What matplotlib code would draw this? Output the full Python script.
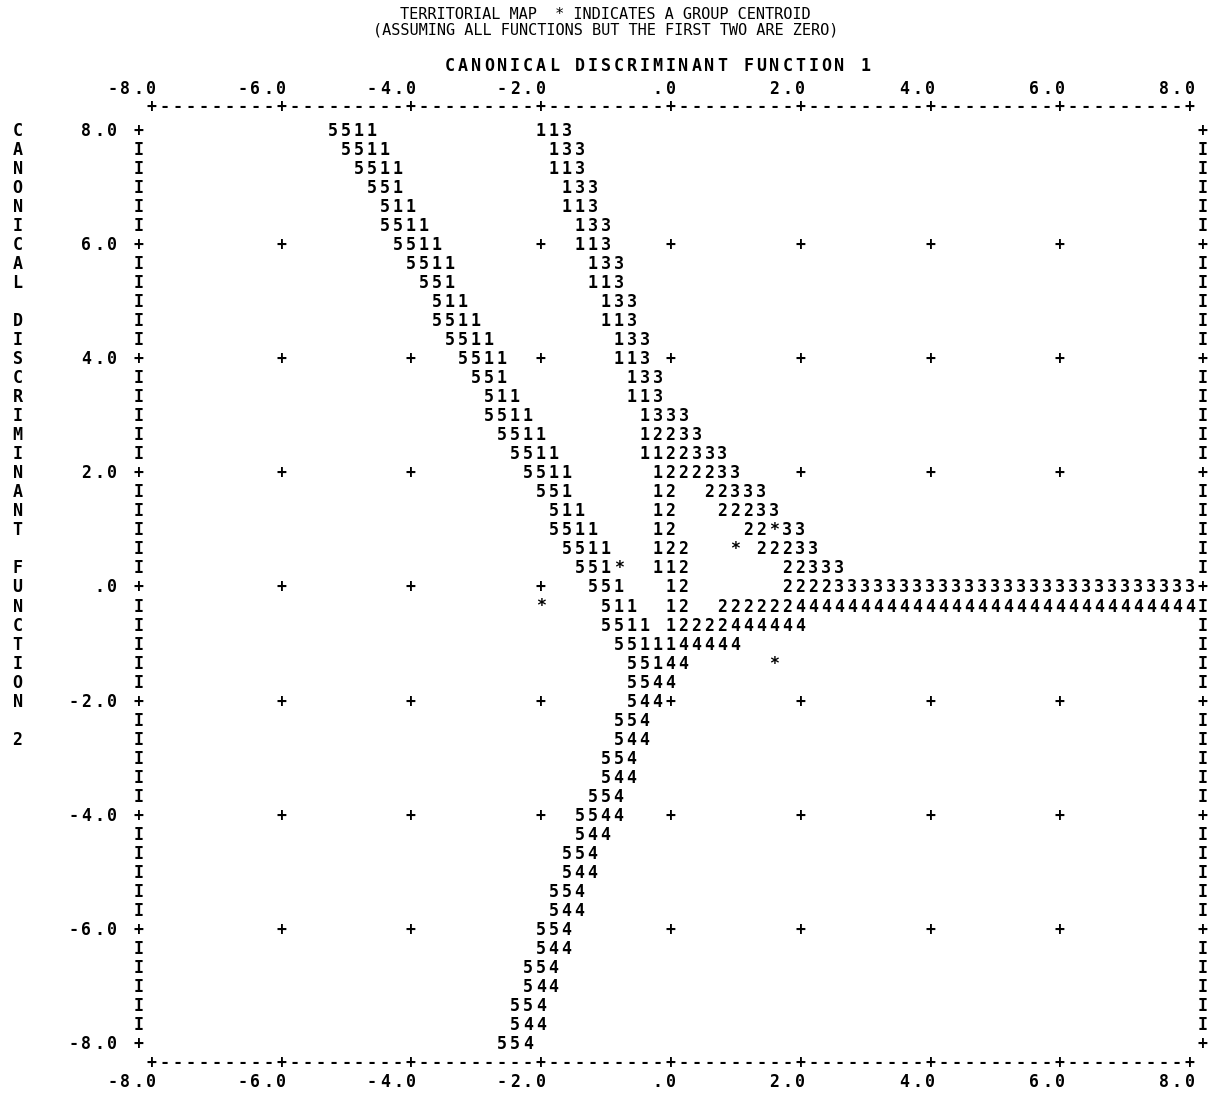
import matplotlib
matplotlib.use('Agg')
import matplotlib.pyplot as plt

# SPSS territorial map, function 1 (x) vs function 2 (y)
# each map row: list of (column, text); column 1 = -8.0, column 81 = 8.0, step 0.2
# rows go from y=8.0 (row 0) down to y=-8.0 (row 48), step 1/3
territory = [
    [(15, '5511'), (31, '113')],
    [(16, '5511'), (32, '133')],
    [(17, '5511'), (32, '113')],
    [(18, '551'), (33, '133')],
    [(19, '511'), (33, '113')],
    [(19, '5511'), (34, '133')],
    [(20, '5511'), (34, '113')],
    [(21, '5511'), (35, '133')],
    [(22, '551'), (35, '113')],
    [(23, '511'), (36, '133')],
    [(23, '5511'), (36, '113')],
    [(24, '5511'), (37, '133')],
    [(25, '5511'), (37, '113')],
    [(26, '551'), (38, '133')],
    [(27, '511'), (38, '113')],
    [(27, '5511'), (39, '1333')],
    [(28, '5511'), (39, '12233')],
    [(29, '5511'), (39, '1122333')],
    [(30, '5511'), (40, '1222233')],
    [(31, '551'), (40, '12'), (44, '22333')],
    [(32, '511'), (40, '12'), (45, '22233')],
    [(32, '5511'), (40, '12'), (47, '22 33')],
    [(33, '5511'), (40, '122'), (48, '22233')],
    [(34, '551'), (40, '112'), (50, '22333')],
    [(35, '551'), (41, '12'), (50, '2222' + '3' * 28)],
    [(36, '511'), (41, '12'), (45, '222222' + '4' * 31)],
    [(36, '5511'), (41, '12222444444')],
    [(37, '5511144444')],
    [(38, '55144')],
    [(38, '5544')],
    [(38, '544')],
    [(37, '554')],
    [(37, '544')],
    [(36, '554')],
    [(36, '544')],
    [(35, '554')],
    [(34, '5544')],
    [(34, '544')],
    [(33, '554')],
    [(33, '544')],
    [(32, '554')],
    [(32, '544')],
    [(31, '554')],
    [(31, '544')],
    [(30, '554')],
    [(30, '544')],
    [(29, '554')],
    [(29, '544')],
    [(28, '554')],
]

# group centroids (function 1, function 2)
centroid_f1 = [1.6, 1.0, -0.8, -2.0, 1.6]
centroid_f2 = [1.0, 0.667, 0.333, -0.333, -1.333]

tick_values = [-8, -6, -4, -2, 0, 2, 4, 6, 8]
tick_labels = ['-8.0', '-6.0', '-4.0', '-2.0', '.0', '2.0', '4.0', '6.0', '8.0']

title1 = 'TERRITORIAL MAP  * INDICATES A GROUP CENTROID'
title2 = '(ASSUMING ALL FUNCTIONS BUT THE FIRST TWO ARE ZERO)'
xtitle = 'CANONICAL DISCRIMINANT FUNCTION 1'
ytitle = 'CANONICAL DISCRIMINANT FUNCTION 2'

W, H = 1214, 1093
fig = plt.figure(figsize=(W / 100, H / 100), dpi=100)
ax = fig.add_axes([0, 0, 1, 1])
ax.axis('off')

# pixel layout of the printed map
px_x0, px_per_x = 670.5, 64.9      # x=0 position, pixels per unit
px_y8, px_per_y = 131.0, 57.06     # y=8 position, pixels per unit
ax.set_xlim(-px_x0 / px_per_x, (W - px_x0) / px_per_x)
ax.set_ylim(8 - (H - px_y8) / px_per_y, 8 + px_y8 / px_per_y)

MONO = 'DejaVu Sans Mono'
FS = 12


def cx(col):
    return -8 + (col - 1) * 0.2


def ry(row):
    return 8 - row / 3.0


def put(text, col, row, weight='bold', size=FS):
    for i, ch in enumerate(text):
        if ch != ' ':
            ax.text(cx(col + i), ry(row), ch, ha='center', va='center',
                    family=MONO, fontsize=size, fontweight=weight, color='black')


nrows = len(territory)
# fill grid
grid = {}
for r, segs in enumerate(territory):
    for c0, txt in segs:
        for i, ch in enumerate(txt):
            if ch != ' ':
                grid[(r, c0 + i)] = ch

# centroids overwrite
for f1, f2 in zip(centroid_f1, centroid_f2):
    c = int(round((f1 + 8) / 0.2)) + 1
    r = int(round((8 - f2) * 3))
    grid[(r, c)] = '*'

# interior grid marks every 2 units
for r in range(6, nrows - 1, 6):
    for c in range(11, 81, 10):
        if (r, c) not in grid:
            grid[(r, c)] = '+'

for (r, c), ch in grid.items():
    put(ch, c, r)

# side borders and y labels
for r in range(nrows):
    edge = '+' if r % 6 == 0 else 'I'
    put(edge, 0, r)
    put(edge, 82, r)
for v, lab in zip(tick_values, tick_labels):
    r = int(round((8 - v) * 3))
    put(lab, -1 - len(lab), r)

# top and bottom borders with tick labels
border = ''.join('+' if (c - 1) % 10 == 0 else '-' for c in range(1, 82))
put(border, 1, -1.26)
put(border, 1, nrows)
for v, lab in zip(tick_values, tick_labels):
    c = int(round((v + 8) / 0.2)) + 1
    put(lab, c - len(lab) + 1, -2.2)
    put(lab, c - len(lab) + 1, nrows + 1.0)

# axis titles
put(xtitle, 24, -3.4)
for i, ch in enumerate(ytitle):
    if ch != ' ':
        ax.text(cx(-9.3), ry(i), ch, ha='center', va='center',
                family=MONO, fontsize=FS, fontweight='bold')

# heading
ax.text(cx(36), ry(-6.1), title1, ha='center', va='center', family=MONO, fontsize=11)
ax.text(cx(36), ry(-5.31), title2, ha='center', va='center', family=MONO, fontsize=11)

fig.savefig('out.png', dpi=100, facecolor='white')
